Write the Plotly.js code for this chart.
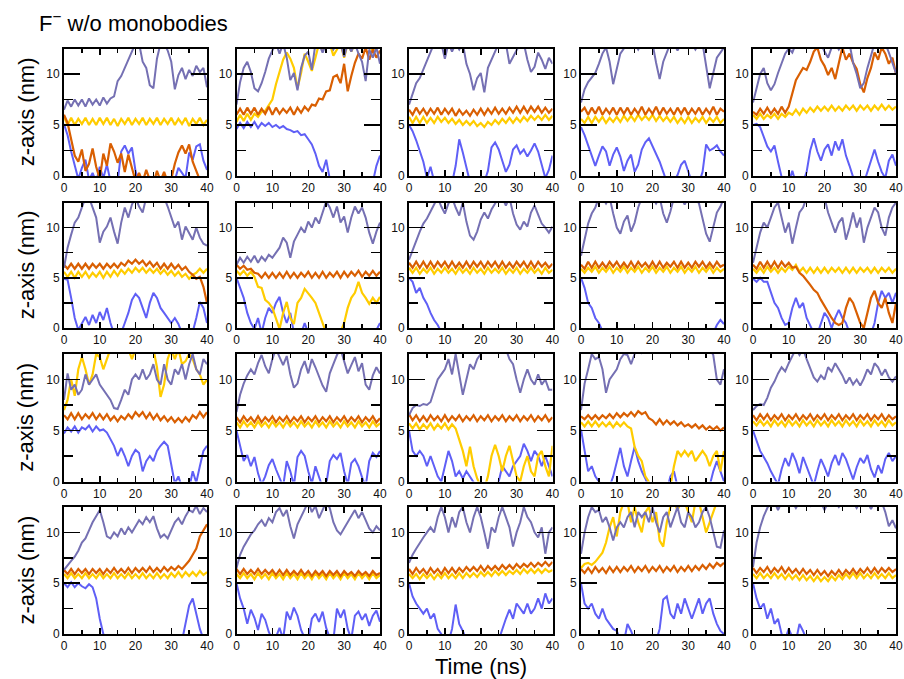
<!DOCTYPE html>
<html>
<head>
<meta charset="utf-8">
<script src="https://cdn.plot.ly/plotly-3.0.1.min.js"></script>
<style>
  html, body { margin: 0; padding: 0; background: #fff; }
  #chart { width: 904px; height: 679px; }
</style>
</head>
<body>
<div id="chart"></div>
<script>
// Sampling times (ns)
const timeNs = [0,1,2,3,4,5,6,7,8,9,10,11,12,13,14,15,16,17,18,19,20,21,22,23,24,25,26,27,28,29,30,31,32,33,34,35,36,37,38,39,40];

// z positions (nm) per run; lav / org / yel / blu = the four tracked ions

// Run 1
const p11_lav = [6.5,7.4,6.8,7.5,6.9,7.5,6.8,7.6,7.0,7.5,6.9,7.7,7.1,7.6,7.8,9.3,9.8,10.6,11.4,12.2,13,13,11.2,10.6,8.9,8.6,11.5,13,13,12.3,11.2,8.5,9.9,10.6,9.5,10.4,9.8,10.8,10.2,10.6,8.7];
const p11_yel = [5.8,5.0,5.7,5.0,5.6,5.1,5.7,5.0,5.6,5.0,5.7,5.1,5.7,5.0,5.6,4.9,5.6,5.1,5.7,5.0,5.6,5.1,5.7,5.0,5.6,5.1,5.7,5.0,5.6,5.1,5.7,5.0,5.6,5.1,5.7,4.9,5.6,5.1,5.7,5.0,5.5];
const p11_org = [6.0,5.2,3.6,2.0,1.4,2.6,0.5,1.2,2.7,0.9,-0.3,2.2,1.0,3.2,2.4,1.3,2.2,0.4,2.1,0.8,-0.5,0.3,-0.6,0.6,-0.4,-0.8,0.5,-0.5,0.4,-0.6,-0.3,1.2,2.3,3.0,2.2,3.1,1.4,0.5,-0.4,-0.8,-0.6];
const p11_blu = [5.1,4.0,2.4,0.9,-0.3,0.8,1.6,-0.4,0.3,-0.6,0.9,-0.2,1.1,-0.5,-0.8,-0.6,2.4,3.0,2.2,2.8,0.5,-0.6,-0.8,-0.7,-0.9,-0.6,-0.8,-0.7,-0.9,-0.6,-0.7,-0.4,0.8,0.3,-0.2,2.3,1.6,2.9,3.1,1.5,0.6];

// Run 2
const p12_lav = [7.0,9.2,10.6,11.2,10.2,8.6,8.3,9.1,10.2,11.5,12.3,13,12.0,13,11.6,9.4,10.1,8.4,10.6,11.8,12.2,10.4,13,13,12.1,13,13,12.4,13,13,11.7,13,12.2,13,12.0,11.2,9.3,12.4,11.6,12.6,11.0];
const p12_yel = [5.3,6.0,5.4,6.1,5.5,6.1,5.8,6.3,6.4,7.0,7.5,9.0,10.2,11.4,12.1,11.5,10.6,8.6,10.1,12.0,11.2,10.3,11.6,13,12.3,13,13,11.8,12.4,13,11.6,13,12.2,13,13,12.5,13,13,12.2,13,13];
const p12_org = [6.0,6.6,6.0,6.7,6.1,6.7,6.0,6.6,6.1,6.8,6.0,6.7,6.1,6.6,6.2,6.7,6.0,6.7,6.2,6.8,6.4,7.0,6.9,7.6,7.5,8.3,8.4,9.7,9.9,9.1,11.0,8.3,9.8,11.1,12.0,11.5,12.6,11.4,12.4,11.6,12.3];
const p12_blu = [4.6,5.2,4.7,5.3,4.8,5.3,4.7,5.2,4.9,5.2,4.8,5.0,4.7,4.9,4.6,4.5,4.3,4.4,4.0,4.1,3.6,3.1,2.2,1.0,0.4,1.6,-0.3,-0.8,-0.9,-0.8,-0.9,-0.8,-0.9,-0.8,-0.9,-0.8,-0.9,-0.8,-0.6,1.0,2.0];

// Run 3
const p13_lav = [7.0,8.0,9.1,9.6,10.4,11.2,12.0,13,12.6,13,11.5,13,12.2,13,12.4,13,11.0,10.0,8.4,9.6,10.1,8.2,10.6,11.4,12.1,13,12.6,13,11.0,11.6,12.2,13,13,11.4,10.2,10.7,12.1,11.4,10.5,11.6,11.0];
const p13_yel = [5.8,5.2,5.8,5.2,5.8,5.2,5.7,5.2,5.8,5.3,5.7,5.2,5.6,5.1,5.5,5.0,5.4,5.0,5.4,4.9,5.2,4.8,5.3,5.0,5.5,5.1,5.6,5.2,5.7,5.2,5.7,5.3,5.8,5.4,5.9,5.5,5.9,5.5,6.0,5.5,5.9];
const p13_org = [6.5,6.0,6.7,6.1,6.6,6.0,6.6,6.1,6.7,6.0,6.6,6.1,6.6,5.9,6.5,6.0,6.4,5.9,6.5,6.0,6.6,6.0,6.6,6.1,6.7,6.1,6.6,6.1,6.7,6.2,6.8,6.2,6.8,6.2,6.8,6.3,6.8,6.2,6.7,6.2,6.6];
const p13_blu = [5.0,4.4,3.5,2.5,1.4,-0.2,0.9,-0.5,-0.8,-0.9,-0.8,-0.9,-0.7,1.0,3.6,2.3,1.0,-0.6,-0.9,-0.8,-0.9,-0.6,0.5,2.8,3.3,2.6,1.5,0.4,1.1,2.6,3.0,2.2,2.6,1.9,2.5,3.2,2.4,1.0,-0.2,0.6,2.0];

// Run 4
const p14_lav = [7.2,8.5,9.2,9.6,10.1,11.0,12.0,12.6,11.2,9.0,10.6,12.0,12.5,13,13,13,12.4,13,13,13,13,11.1,9.5,11.2,12.1,13,13,12.3,13,13,13,13,12.4,13,13,11.0,8.6,10.1,11.6,12.1,12.6];
const p14_yel = [5.6,5.2,5.8,5.2,5.8,5.3,5.8,5.2,5.7,5.3,5.8,5.3,5.9,5.4,5.9,5.4,6.0,5.5,5.9,5.5,6.0,5.4,5.9,5.4,5.8,5.3,5.8,5.2,5.7,5.2,5.8,5.2,5.7,5.3,5.8,5.2,5.7,5.3,5.8,5.2,5.6];
const p14_org = [6.3,6.7,6.0,6.7,6.1,6.8,6.0,6.6,6.1,6.7,6.0,6.7,6.1,6.7,6.0,6.6,6.1,6.8,6.0,6.6,6.1,6.8,6.0,6.7,6.1,6.6,6.0,6.7,6.1,6.7,6.0,6.6,6.1,6.7,6.0,6.6,6.1,6.8,6.0,6.6,6.3];
const p14_blu = [4.8,4.0,3.0,1.9,1.0,2.0,2.9,2.4,1.0,2.1,2.8,1.9,0.5,1.5,2.1,0.4,1.1,2.6,3.3,3.7,2.9,2.1,1.4,0.4,-0.6,-0.9,-0.5,0.1,1.1,1.5,0.5,-0.6,-0.9,-0.7,0.4,3.1,2.5,2.7,3.0,2.4,2.0];

// Run 5
const p15_lav = [7.2,8.6,10.0,10.6,9.1,8.4,9.0,10.1,11.0,12.0,12.5,12.1,13,13,13,13,13,13,13,13,12.2,11.6,12.6,13,12.4,13,13,13,11.1,10.0,8.6,9.1,10.6,12.0,13,13,13,13,12.1,11.0,10.1];
const p15_yel = [6.0,5.6,6.1,5.6,6.0,5.7,6.1,5.6,6.1,5.8,6.2,6.0,6.5,6.0,6.6,6.2,6.7,6.3,6.8,6.4,6.8,6.4,6.9,6.4,6.8,6.4,6.9,6.5,6.9,6.4,6.9,6.5,6.9,6.4,6.9,6.5,7.0,6.5,6.9,6.5,6.8];
const p15_org = [6.3,6.0,6.6,6.1,6.7,6.1,6.6,6.1,6.8,6.2,6.8,8.0,9.4,10.0,10.6,10.4,11.2,12.2,12.6,11.4,10.8,9.9,10.6,9.5,11.2,12.6,11.4,12.0,11.1,10.5,9.0,8.2,9.6,10.6,12.1,11.4,12.6,12.0,11.0,11.6,10.0];
const p15_blu = [5.0,5.1,4.8,3.9,2.9,2.4,3.0,1.4,-0.1,-0.8,-0.6,0.5,-0.7,-0.9,-0.6,0.4,2.5,3.7,2.4,1.5,2.6,3.1,2.0,3.4,2.5,3.6,2.0,1.0,-0.1,-0.8,-0.9,-0.7,0.4,1.5,2.6,1.4,0.4,-0.2,1.5,2.1,1.0];

// Run 6
const p21_lav = [6.0,8.0,9.3,10.5,11.0,12.0,13,13,12.0,11.0,8.5,9.6,10.1,11.0,9.6,8.4,10.5,12.0,11.0,12.3,13,12.1,11.5,13,13,13,13,13,13,12.1,11.0,10.0,10.6,8.8,10.1,9.5,8.8,10.0,9.0,8.4,8.2];
const p21_yel = [5.6,5.1,5.6,5.0,5.6,5.1,5.6,5.0,5.5,5.1,5.6,5.0,5.6,5.1,5.7,5.2,5.8,5.4,5.9,5.5,6.0,5.6,6.0,5.5,5.9,5.5,5.9,5.4,5.8,5.3,5.7,5.2,5.6,5.1,5.4,4.9,5.3,5.5,5.9,5.5,5.9];
const p21_org = [6.3,5.9,6.4,5.9,6.4,5.9,6.4,5.9,6.4,6.0,6.4,5.9,6.4,6.0,6.4,6.0,6.5,6.2,6.7,6.4,6.8,6.4,6.7,6.2,6.6,6.1,6.5,5.9,6.4,5.9,6.4,5.9,6.3,5.8,6.1,5.6,5.3,4.9,5.1,4.1,2.5];
const p21_blu = [4.9,4.8,3.0,1.0,-0.2,0.5,1.1,0.3,1.3,0.5,1.6,0.8,2.0,0.5,-0.6,-0.8,-0.5,0.5,1.5,2.8,3.4,3.0,2.0,1.0,2.5,3.5,3.0,2.0,1.5,1.0,0.5,1.0,0.4,-0.5,-0.8,-0.6,-0.4,1.0,2.6,2.0,0.5];

// Run 7
const p22_lav = [6.3,7.0,6.5,7.1,6.6,7.2,6.5,7.1,6.7,7.3,7.0,7.5,8.0,9.0,8.5,7.0,8.6,9.3,10.0,9.5,10.6,10.0,11.0,10.4,11.6,12.6,12.0,11.0,12.1,10.5,11.1,9.5,11.0,12.1,11.4,12.0,11.0,9.5,8.4,9.6,10.5];
const p22_yel = [5.7,5.3,5.7,5.2,5.6,5.1,4.1,4.0,2.8,2.5,2.0,1.0,-0.1,1.5,2.6,1.0,0.4,2.5,3.0,3.9,3.5,3.0,2.5,1.5,0.3,-0.5,-0.7,-0.5,-0.8,-0.4,0.5,2.0,3.0,3.5,4.6,3.5,3.0,2.4,3.0,2.5,3.1];
const p22_org = [6.3,5.9,6.2,5.8,5.9,5.5,5.4,5.0,5.5,5.0,5.5,5.0,5.5,5.0,5.6,5.0,5.5,5.0,5.5,5.1,5.6,5.0,5.5,5.0,5.6,5.0,5.5,5.1,5.6,5.0,5.6,5.1,5.6,5.2,5.7,5.1,5.6,5.2,5.7,5.2,5.6];
const p22_blu = [5.0,4.0,3.0,1.5,0.5,-0.1,1.0,-0.5,1.0,2.0,1.5,2.5,3.1,1.5,0.5,1.5,-0.5,-0.8,-0.6,0.5,-0.5,-0.8,-0.9,-0.7,-0.9,-0.8,-0.6,-0.9,-0.8,-0.7,-0.8,-0.9,-0.7,-0.8,-0.9,-0.7,-0.8,-0.9,-0.5,-0.2,0.5];

// Run 8
const p23_lav = [6.8,7.8,8.6,9.6,10.4,10.9,11.6,12.3,13,12.1,11.4,12.4,13,12.0,11.2,12.5,10.6,9.2,8.8,9.6,10.8,11.5,10.9,11.8,12.4,13,13,12.2,13,11.4,10.3,9.8,10.6,10.1,11.5,12.2,11.3,10.4,10.0,9.5,10.1];
const p23_yel = [6.0,5.5,6.0,5.4,5.9,5.5,6.0,5.4,5.9,5.5,6.0,5.5,5.9,5.4,6.0,5.5,5.9,5.4,6.0,5.5,5.9,5.4,6.0,5.5,5.9,5.5,6.0,5.4,5.9,5.5,6.0,5.4,5.9,5.5,6.0,5.5,5.9,5.4,6.0,5.5,5.8];
const p23_org = [6.5,6.0,6.6,6.0,6.6,6.0,6.6,6.0,6.6,6.1,6.6,6.0,6.6,6.0,6.5,6.0,6.6,6.0,6.6,6.1,6.6,6.0,6.6,6.1,6.6,6.0,6.6,6.0,6.5,6.0,6.6,6.1,6.6,6.0,6.6,6.0,6.6,6.1,6.5,6.0,6.4];
const p23_blu = [5.0,4.6,3.5,4.0,3.0,2.4,1.5,0.8,0.3,-0.4,-0.8,-0.9,-0.7,-0.8,-0.9,-0.8,-0.7,-0.9,-0.8,-0.9,-0.8,-0.7,-0.9,-0.8,-0.9,-0.7,-0.8,-0.9,-0.8,-0.7,-0.9,-0.8,-0.9,-0.7,-0.8,-0.9,-0.8,-0.7,-0.9,-0.8,-0.9];

// Run 9
const p24_lav = [7.2,8.8,10.4,11.4,12.0,13,13,12.4,13,11.4,10.0,9.4,10.6,11.2,9.6,10.5,12.0,13,13,13,13,12.4,13,11.4,10.5,11.6,13,13,13,12.3,13,13,13,12.4,11.0,9.4,8.6,10.0,11.5,12.1,13];
const p24_yel = [5.9,5.5,6.0,5.6,6.1,5.5,6.0,5.6,6.1,5.5,6.0,5.6,6.1,5.5,6.0,5.6,6.1,5.5,6.0,5.6,6.1,5.5,6.0,5.6,6.1,5.5,6.0,5.6,6.1,5.5,6.0,5.6,6.1,5.5,6.0,5.6,6.1,5.5,6.0,5.6,5.9];
const p24_org = [6.3,5.9,6.6,6.0,6.6,6.0,6.5,6.0,6.6,6.1,6.6,6.0,6.5,6.0,6.6,6.0,6.6,6.1,6.5,6.0,6.6,6.0,6.6,6.0,6.5,6.1,6.6,6.0,6.6,6.0,6.5,6.0,6.6,6.1,6.6,6.0,6.5,6.0,6.6,6.1,6.3];
const p24_blu = [5.0,4.0,2.5,2.0,1.0,0.5,-0.3,-0.8,-0.9,-0.7,-0.8,-0.9,-0.8,-0.7,-0.9,-0.8,-0.9,-0.7,-0.8,-0.9,-0.8,-0.7,-0.9,-0.8,-0.9,-0.8,-0.7,-0.9,-0.8,-0.9,-0.7,-0.8,-0.9,-0.8,-0.7,-0.9,-0.8,-0.5,0.3,0.8,0.4];

// Run 10
const p25_lav = [6.5,8.0,9.5,10.5,10.0,11.0,12.0,12.5,11.0,9.5,10.5,8.4,10.0,11.5,12.0,13,13,13,13,13,13,11.5,10.4,9.5,10.5,11.0,8.8,10.0,11.5,10.0,11.0,8.5,10.0,11.0,12.0,11.5,10.0,9.2,11.0,12.0,12.5];
const p25_yel = [5.9,5.5,6.0,5.5,6.1,5.6,6.0,5.5,6.0,5.6,6.1,5.8,6.3,5.6,6.0,5.5,6.0,5.5,6.0,5.5,6.0,5.5,6.0,5.6,6.0,5.5,6.0,5.5,6.0,5.5,6.0,5.6,6.0,5.5,6.0,5.5,6.0,5.6,6.0,5.5,5.9];
const p25_org = [6.3,5.9,6.6,6.0,6.6,6.0,6.6,6.0,6.6,6.1,6.5,6.0,6.1,5.5,5.2,4.8,4.3,3.8,3.5,2.8,2.2,1.5,1.0,0.5,0.3,0.5,2.0,3.0,2.5,1.5,0.5,0.0,1.5,3.0,3.7,2.5,2.0,3.0,1.5,0.5,2.5];
const p25_blu = [4.9,4.6,5.0,4.6,4.6,3.5,2.5,2.0,1.0,0.3,0.5,2.0,3.0,2.0,2.5,1.0,0.3,-0.5,-0.6,0.5,1.5,1.0,0.0,1.0,1.8,1.0,0.5,-0.5,-0.8,-0.6,-0.8,-0.7,-0.9,-0.6,0.5,2.5,3.7,3.0,3.5,2.5,3.5];

// Run 11
const p31_lav = [8.0,10.6,9.0,9.5,8.5,9.0,10.5,9.5,10.0,10.5,9.5,9.0,8.5,8.0,7.2,7.1,8.0,9.0,8.5,10.0,10.5,10.0,11.0,10.0,10.5,11.5,10.0,9.5,11.5,10.0,9.5,11.0,10.5,11.5,10.0,11.5,12.5,11.0,10.5,12.0,11.5];
const p31_yel = [7.0,8.0,10.0,8.4,11.0,12.2,11.0,9.5,10.5,12.5,12.2,11.0,12.0,13,13,13,13,13,13,12.0,13,13,13,13,13,13,11.2,8.3,9.5,12.0,13,12.0,13,11.5,11.8,12.5,12.0,11.0,10.5,9.5,10.0];
const p31_org = [6.5,6.1,6.7,6.1,6.7,6.1,6.6,6.2,6.7,6.1,6.6,6.1,6.6,6.0,6.4,5.9,6.4,6.1,6.6,6.2,6.8,6.4,6.8,6.2,6.7,6.1,6.6,6.0,6.4,5.9,6.3,5.8,6.2,5.8,6.3,5.9,6.5,6.2,6.8,6.3,6.8];
const p31_blu = [4.7,5.3,4.9,5.4,4.8,5.3,5.1,5.5,4.9,5.4,5.0,5.1,4.8,4.2,3.5,2.5,3.3,2.5,1.5,2.5,3.1,2.8,1.0,2.0,2.5,2.0,3.0,3.5,3.9,3.5,1.5,-0.2,0.5,-0.6,-0.8,-0.7,1.0,-0.1,1.5,3.0,3.5];

// Run 12
const p32_lav = [6.8,8.5,9.6,10.4,11.0,10.5,11.6,12.4,11.3,10.6,12.0,13,12.2,11.4,12.3,10.5,9.2,9.6,11.0,11.8,10.6,12.0,11.2,10.2,9.4,8.8,10.6,11.5,12.4,13,11.8,10.6,11.4,12.2,10.8,11.6,9.5,9.0,10.4,11.2,10.6];
const p32_yel = [5.8,5.3,5.9,5.4,5.8,5.3,5.9,5.4,5.8,5.3,5.9,5.4,5.8,5.3,5.9,5.4,5.8,5.3,5.9,5.4,5.8,5.3,5.9,5.4,5.8,5.3,5.9,5.4,5.8,5.3,5.9,5.4,5.8,5.3,5.9,5.4,5.8,5.3,5.9,5.4,5.7];
const p32_org = [6.3,5.8,6.4,5.9,6.3,5.8,6.4,5.8,6.3,5.9,6.4,5.8,6.3,5.9,6.4,5.8,6.3,5.9,6.4,5.8,6.3,5.9,6.4,5.8,6.3,5.9,6.4,5.8,6.3,5.9,6.4,5.8,6.3,5.9,6.4,5.8,6.3,5.9,6.4,5.8,6.2];
const p32_blu = [5.0,3.5,2.0,2.6,1.5,2.4,0.8,-0.3,0.5,1.6,2.2,1.2,0.3,-0.5,2.0,1.0,-0.4,2.4,3.0,2.5,1.0,-0.2,1.5,0.6,-0.6,-0.3,2.0,2.6,2.2,2.8,1.0,-0.3,1.8,2.2,1.5,0.4,-0.5,2.0,2.8,2.4,3.0];

// Run 13
const p33_lav = [6.5,7.2,7.5,7.4,7.6,7.5,7.8,9.0,10.0,10.5,11.0,12.0,10.5,12.5,10.5,8.5,10.0,11.5,11.0,12.0,12.5,13,13,13,13,13,13,13,12.0,11.5,10.0,8.7,10.0,11.0,10.0,9.5,10.5,9.5,10.0,9.0,9.0];
const p33_yel = [5.7,5.2,5.7,5.1,5.6,5.2,5.7,5.1,5.6,5.2,5.7,5.1,5.6,5.2,4.1,3.0,1.5,3.4,1.5,0.3,-0.5,-0.7,0.5,2.5,3.6,2.5,1.0,2.5,3.5,2.0,0.5,0.0,1.5,2.5,1.0,0.5,2.5,3.0,1.5,0.5,3.5];
const p33_org = [6.6,6.0,6.5,5.9,6.4,5.9,6.5,6.0,6.4,5.9,6.5,5.9,6.4,6.0,6.5,5.9,6.4,6.0,6.5,5.9,6.4,6.0,6.5,5.9,6.4,6.0,6.5,5.9,6.4,6.0,6.5,5.9,6.4,6.0,6.5,5.9,6.4,6.0,6.5,5.9,6.3];
const p33_blu = [5.0,3.0,2.5,3.0,2.5,1.5,2.5,1.5,0.5,0.0,1.5,3.0,2.0,0.5,1.0,0.3,1.0,0.5,0.0,-0.6,-0.8,-0.7,-0.9,-0.6,-0.8,0.0,1.5,1.0,0.5,1.5,2.0,2.5,3.7,3.0,2.0,3.0,2.5,1.5,2.5,1.5,0.5];

// Run 14
const p34_lav = [7.0,9.6,11.0,12.5,12.0,12.2,11.0,8.7,10.0,10.5,11.0,12.0,12.5,12.4,11.5,12.5,13,12.6,13,13,13,13,13,13,13,13,13,13,13,13,13,13,13,13,13,13,13,12.4,10.0,9.5,11.0];
const p34_yel = [5.8,5.4,5.9,5.4,5.9,5.4,5.8,5.4,5.8,5.3,5.8,5.4,5.8,5.4,5.2,3.4,2.5,2.0,0.5,0.0,-0.6,-0.8,-0.7,-0.9,-0.6,-0.5,1.5,3.0,2.5,3.0,2.5,3.0,2.0,2.5,3.0,2.5,1.5,2.5,3.0,1.0,3.0];
const p34_org = [6.4,6.1,6.5,6.1,6.5,6.1,6.5,6.2,6.6,6.2,6.7,6.3,6.7,6.4,6.8,6.4,6.9,6.6,6.8,6.2,6.0,5.6,6.1,5.6,6.0,5.6,5.9,5.5,5.8,5.4,5.6,5.3,5.6,5.2,5.5,5.1,5.4,5.1,5.4,5.0,5.3];
const p34_blu = [5.1,3.0,1.0,1.5,0.5,0.0,-0.6,-0.8,-0.5,0.5,2.0,3.3,1.5,0.5,2.0,3.4,2.0,1.0,0.3,-0.6,-0.8,-0.9,-0.7,-0.8,-0.9,0.5,1.0,-0.5,-0.8,-0.9,-0.7,-0.8,-0.9,-0.7,-0.8,-0.6,-0.4,1.0,2.0,1.0,0.0];

// Run 15
const p35_lav = [7.0,7.4,7.6,7.5,8.2,9.2,9.8,10.6,11.2,10.8,11.6,12.2,13,12.4,13,12.0,11.0,10.2,9.8,10.4,10.0,11.2,10.8,11.6,11.0,10.4,9.6,10.2,9.5,10.0,9.4,10.1,11.0,10.5,11.6,11.2,10.4,11.0,10.2,9.8,10.3];
const p35_yel = [5.9,5.5,6.0,5.5,5.9,5.4,6.0,5.5,5.9,5.4,6.0,5.5,5.9,5.4,6.0,5.5,5.9,5.4,6.0,5.5,5.9,5.4,6.0,5.5,5.9,5.4,6.0,5.5,5.9,5.4,6.0,5.5,5.9,5.4,6.0,5.5,5.9,5.4,6.0,5.5,5.8];
const p35_org = [6.5,6.0,6.6,6.1,6.6,6.0,6.5,6.1,6.6,6.0,6.5,6.1,6.6,6.0,6.5,6.1,6.6,6.0,6.5,6.1,6.6,6.0,6.5,6.1,6.6,6.0,6.5,6.1,6.6,6.0,6.5,6.1,6.6,6.0,6.5,6.1,6.6,6.0,6.5,6.1,6.4];
const p35_blu = [5.0,4.0,3.0,2.4,1.8,1.0,0.3,-0.3,1.2,2.3,1.5,2.8,2.0,0.8,2.4,1.5,0.5,-0.4,1.0,2.2,1.4,0.5,1.8,2.6,1.6,2.8,2.2,1.2,0.2,1.4,2.3,1.8,2.6,1.2,0.4,1.6,0.8,2.2,2.8,2.0,2.5];

// Run 16
const p41_lav = [6.3,6.8,7.2,7.6,8.2,9.0,9.4,10.2,11.0,11.6,12.2,11.0,9.6,9.4,10.0,9.6,10.4,9.8,10.5,10.0,10.6,11.2,10.8,11.5,11.0,11.6,10.4,9.5,9.8,9.4,10.2,11.0,11.4,10.8,11.6,12.2,12.0,12.6,11.8,12.4,12.0];
const p41_yel = [5.9,5.5,6.0,5.5,5.9,5.5,6.0,5.5,5.9,5.5,6.0,5.5,5.9,5.5,6.0,5.5,5.9,5.5,6.0,5.5,5.9,5.5,6.0,5.5,5.9,5.5,6.0,5.5,5.9,5.5,6.0,5.6,6.1,5.6,6.1,5.7,6.1,5.7,6.2,5.8,6.1];
const p41_org = [6.3,5.9,6.4,5.9,6.4,6.0,6.4,5.9,6.4,6.0,6.4,5.9,6.4,6.0,6.5,6.0,6.4,6.0,6.5,6.0,6.5,6.1,6.5,6.1,6.6,6.1,6.5,6.1,6.6,6.2,6.6,6.3,6.7,6.4,6.8,7.2,7.8,8.4,9.6,10.2,10.8];
const p41_blu = [5.0,4.6,5.1,4.6,5.0,4.7,4.5,4.9,4.6,3.5,1.5,0.0,-0.6,-0.8,-0.9,-0.7,-0.8,-0.9,-0.7,-0.8,-0.9,-0.7,-0.8,-0.9,-0.7,-0.8,-0.9,-0.7,-0.8,-0.9,-0.7,-0.8,-0.9,-0.7,1.0,2.8,3.5,2.0,0.5,-0.5,-0.8];

// Run 17
const p42_lav = [6.5,7.8,8.6,9.2,9.8,10.2,10.8,11.2,10.6,11.4,11.0,12.0,12.4,11.6,12.2,10.6,9.4,10.8,11.6,12.4,13,12.0,12.6,11.4,12.2,13,12.4,11.0,10.2,9.8,10.4,11.0,11.6,12.2,11.4,12.0,11.2,10.4,10.0,10.6,10.2];
const p42_yel = [5.9,5.5,6.0,5.5,5.9,5.4,6.0,5.5,5.9,5.4,6.0,5.5,5.9,5.4,6.0,5.5,5.9,5.4,6.0,5.5,5.9,5.4,6.0,5.5,5.9,5.4,6.0,5.5,5.9,5.4,6.0,5.5,5.9,5.4,6.0,5.5,5.9,5.4,6.0,5.5,5.8];
const p42_org = [6.4,5.9,6.4,5.9,6.3,5.9,6.4,5.9,6.3,5.9,6.3,5.8,6.3,5.8,6.3,5.8,6.2,5.8,6.3,5.8,6.2,5.7,6.2,5.8,6.2,5.7,6.2,5.8,6.2,5.7,6.2,5.8,6.1,5.7,6.2,5.8,6.1,5.7,6.2,5.8,6.0];
const p42_blu = [5.0,3.5,2.5,1.0,2.4,1.6,0.4,2.0,1.4,0.2,-0.5,-0.3,0.6,-0.5,2.2,1.4,2.6,1.8,0.4,-0.4,-0.6,1.5,2.0,1.2,2.2,0.6,-0.4,-0.6,2.5,1.6,2.4,0.5,-0.5,1.8,2.2,1.4,2.0,0.8,1.8,2.3,1.2];

// Run 18
const p43_lav = [7.0,7.8,8.4,9.0,9.5,10.0,10.5,10.0,11.5,12.5,11.5,10.0,11.5,10.5,12.0,12.5,11.0,10.0,11.5,12.5,11.5,10.0,8.4,10.5,10.0,11.5,12.5,11.5,10.5,8.6,10.0,11.0,12.5,11.5,11.0,10.0,9.5,10.5,7.9,10.0,10.5];
const p43_yel = [5.9,5.5,5.9,5.4,5.9,5.5,5.9,5.4,5.9,5.5,6.0,5.5,5.9,5.5,6.0,5.5,6.0,5.6,6.0,5.6,6.1,5.7,6.1,5.7,6.2,5.8,6.2,5.8,6.2,5.9,6.3,5.9,6.4,6.0,6.4,6.0,6.4,6.0,6.4,6.1,6.3];
const p43_org = [6.4,5.9,6.5,6.0,6.4,5.9,6.5,6.0,6.4,5.9,6.5,6.0,6.5,6.0,6.5,6.1,6.6,6.2,6.6,6.2,6.7,6.2,6.7,6.3,6.7,6.3,6.8,6.4,6.8,6.4,6.9,6.5,6.9,6.6,7.0,6.6,7.0,6.7,7.1,6.7,7.1];
const p43_blu = [5.0,3.7,3.0,2.5,2.0,2.5,1.5,2.0,0.5,0.0,-0.6,-0.8,0.5,2.9,1.0,0.3,-0.6,-0.8,-0.9,-0.7,-0.8,-0.9,-0.7,-0.8,-0.9,-0.6,0.5,1.5,2.4,1.5,3.0,2.5,2.0,3.0,2.0,2.5,3.5,2.5,4.0,3.0,3.5];

// Run 19
const p44_lav = [7.9,10.0,11.5,12.5,12.0,12.2,11.0,11.5,10.5,9.2,10.5,11.0,10.5,11.5,12.0,10.5,12.0,11.5,12.0,11.0,12.5,11.0,10.0,11.5,12.0,10.5,11.5,12.5,11.0,10.5,12.0,11.5,10.5,11.0,12.0,12.5,11.5,10.0,8.6,8.5,10.2];
const p44_yel = [6.5,6.9,7.0,6.8,7.1,7.6,8.0,9.0,10.5,11.5,9.6,12.0,13,13,11.0,12.5,11.0,10.0,12.0,12.5,11.0,12.0,9.2,8.6,11.0,12.5,13,12.2,13,13,12.0,11.0,13,13,11.5,10.0,11.0,12.0,13,13,13];
const p44_org = [6.4,6.0,6.5,6.0,6.6,6.1,6.5,6.0,6.6,6.1,6.6,6.1,6.6,6.2,6.7,6.1,6.6,6.2,6.7,6.1,6.6,6.2,6.7,6.1,6.6,6.2,6.7,6.1,6.6,6.2,6.7,6.2,6.7,6.3,6.8,6.4,6.9,6.5,7.0,6.7,7.0];
const p44_blu = [5.0,3.0,2.5,3.0,2.0,1.5,2.5,1.5,1.0,0.5,0.3,-0.6,-0.8,1.0,0.3,-0.6,-0.8,-0.9,-0.7,-0.8,-0.9,-0.7,0.5,3.4,3.7,2.0,1.5,3.0,2.0,3.5,2.5,1.5,2.5,3.5,2.0,3.0,3.5,2.0,1.0,0.3,0.0];

// Run 20
const p45_lav = [6.6,9.0,10.5,11.6,12.4,13,13,12.2,13,13,13,13,12.4,13,13,13,12.6,13,13,13,12.2,13,13,13,12.5,13,13,13,13,12.4,13,13,13,12.3,13,13,13,12.0,10.6,11.2,10.4];
const p45_yel = [5.9,5.5,6.0,5.5,5.9,5.5,6.0,5.5,5.9,5.4,5.9,5.4,5.8,5.3,5.8,5.3,5.7,5.2,5.7,5.2,5.6,5.2,5.7,5.3,5.8,5.4,5.9,5.5,6.0,5.5,6.0,5.5,5.9,5.5,6.0,5.5,5.9,5.5,6.0,5.5,5.8];
const p45_org = [6.5,6.0,6.5,6.1,6.6,6.0,6.5,6.1,6.6,6.0,6.5,6.0,6.4,5.9,6.4,5.9,6.3,5.8,6.3,5.8,6.2,5.7,6.2,5.8,6.3,5.8,6.3,5.9,6.4,5.9,6.4,6.0,6.5,6.0,6.5,6.0,6.5,6.1,6.5,6.1,6.4];
const p45_blu = [5.0,3.5,2.5,3.0,1.5,2.5,1.0,1.5,0.0,-0.5,0.5,-0.3,-0.7,1.0,0.3,-0.6,-0.8,-0.9,-0.7,-0.8,-0.9,-0.7,-0.8,-0.9,-0.7,-0.8,-0.9,-0.7,-0.8,-0.9,-0.7,-0.8,-0.9,-0.7,-0.8,-0.9,-0.7,-0.8,-0.9,-0.7,-0.8];

// Panels in reading order (row by row), each with its four series
const panelSeries = [
  [p11_blu, p11_yel, p11_org, p11_lav], [p12_blu, p12_yel, p12_org, p12_lav],
  [p13_blu, p13_yel, p13_org, p13_lav], [p14_blu, p14_yel, p14_org, p14_lav],
  [p15_blu, p15_yel, p15_org, p15_lav],
  [p21_blu, p21_yel, p21_org, p21_lav], [p22_blu, p22_yel, p22_org, p22_lav],
  [p23_blu, p23_yel, p23_org, p23_lav], [p24_blu, p24_yel, p24_org, p24_lav],
  [p25_blu, p25_yel, p25_org, p25_lav],
  [p31_blu, p31_yel, p31_org, p31_lav], [p32_blu, p32_yel, p32_org, p32_lav],
  [p33_blu, p33_yel, p33_org, p33_lav], [p34_blu, p34_yel, p34_org, p34_lav],
  [p35_blu, p35_yel, p35_org, p35_lav],
  [p41_blu, p41_yel, p41_org, p41_lav], [p42_blu, p42_yel, p42_org, p42_lav],
  [p43_blu, p43_yel, p43_org, p43_lav], [p44_blu, p44_yel, p44_org, p44_lav],
  [p45_blu, p45_yel, p45_org, p45_lav]
];
const seriesColors = ['#5f5ff6', '#ffcc00', '#d95f02', '#7570b3'];
const seriesWidths = [2, 2.2, 2.2, 2];

const xTickVals = [0, 10, 20, 30, 40];
const yTickVals = [0, 5, 10];

// Page geometry (px)
const W = 904, H = 679;
const colEdges = [[64, 207], [236.5, 380], [409, 552.5], [581, 724], [753, 896]];
const rowEdges = [[48.5, 176], [202.5, 328], [354, 481.5], [507, 634]];

const tickFont = { family: 'Liberation Sans, Arial, sans-serif', size: 12, color: '#111' };
const labelFont = { family: 'Liberation Sans, Arial, sans-serif', size: 22, color: '#000' };

const traces = [];
const layout = {
  width: W, height: H,
  margin: { l: 0, r: 0, t: 0, b: 0, pad: 0 },
  paper_bgcolor: '#fff', plot_bgcolor: '#fff',
  showlegend: false,
  annotations: []
};

panelSeries.forEach((series, k) => {
  const r = Math.floor(k / 5), c = k % 5;
  const n = k + 1;
  const xName = n === 1 ? 'x' : 'x' + n;
  const yName = n === 1 ? 'y' : 'y' + n;
  series.forEach((vals, s) => {
    traces.push({
      type: 'scatter', mode: 'lines',
      x: timeNs, y: vals,
      xaxis: xName, yaxis: yName,
      line: { color: seriesColors[s], width: seriesWidths[s] },
      hoverinfo: 'skip'
    });
  });
  const [x0, x1] = colEdges[c];
  const [y0, y1] = rowEdges[r];
  layout['xaxis' + (n === 1 ? '' : n)] = {
    domain: [x0 / W, x1 / W], anchor: yName,
    range: [0, 40], tickvals: xTickVals, ticktext: xTickVals.map(String),
    ticks: 'inside', ticklen: 6, tickwidth: 1.5, tickcolor: '#000',
    minor: { dtick: 5, tick0: 0, ticks: 'inside', ticklen: 4, tickwidth: 1.5, tickcolor: '#000' },
    showline: true, linecolor: '#000', linewidth: 2, mirror: 'ticks',
    showgrid: false, zeroline: false, tickfont: tickFont, fixedrange: true
  };
  layout['yaxis' + (n === 1 ? '' : n)] = {
    domain: [(H - y1) / H, (H - y0) / H], anchor: xName,
    range: [0, 12.5], tickvals: yTickVals, ticktext: yTickVals.map(String),
    ticks: 'inside', ticklen: 16, tickwidth: 1.5, tickcolor: '#000',
    minor: { dtick: 2.5, tick0: 0, ticks: 'inside', ticklen: 9, tickwidth: 1.5, tickcolor: '#000' },
    showline: true, linecolor: '#000', linewidth: 2, mirror: 'ticks',
    showgrid: false, zeroline: false, tickfont: tickFont, fixedrange: true
  };
});

// Row labels
rowEdges.forEach(([y0, y1]) => {
  layout.annotations.push({
    xref: 'paper', yref: 'paper', x: 26 / W, y: (H - (y0 + y1) / 2) / H,
    xanchor: 'center', yanchor: 'middle', textangle: -90, showarrow: false,
    text: 'z-axis (nm)', font: labelFont
  });
});
// Shared time label
layout.annotations.push({
  xref: 'paper', yref: 'paper', x: 481 / W, y: (H - 666) / H,
  xanchor: 'center', yanchor: 'middle', showarrow: false,
  text: 'Time (ns)', font: labelFont
});
// Figure heading
layout.annotations.push({
  xref: 'paper', yref: 'paper', x: 37 / W, y: (H - 22) / H,
  xanchor: 'left', yanchor: 'middle', showarrow: false,
  text: 'F<sup>\u2212</sup> w/o monobodies',
  font: { family: 'Liberation Sans, Arial, sans-serif', size: 22, color: '#000' }
});

Plotly.newPlot('chart', traces, layout, { staticPlot: true, displayModeBar: false });
</script>
</body>
</html>
